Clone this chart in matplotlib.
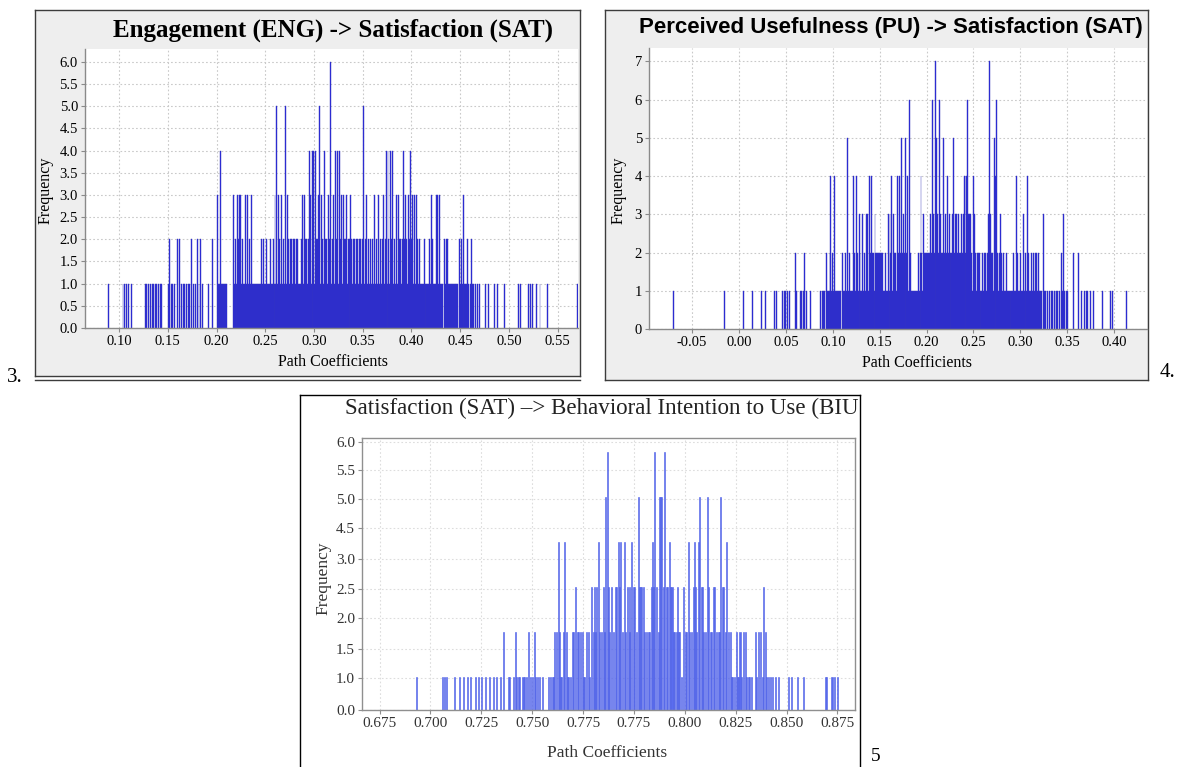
import matplotlib
matplotlib.use("Agg")
import matplotlib.pyplot as plt
from matplotlib.lines import Line2D

plt.rcParams["font.family"] = ["Liberation Serif", "DejaVu Serif"]

W, H = 1178, 767

# --- data: (path coefficient bin, frequency) ---
eng_sat = [
    (0.089, 1), (0.104, 1), (0.106, 1), (0.108, 1), (0.110, 1), (0.113, 1),
    (0.127, 1), (0.128, 1), (0.130, 1), (0.132, 1), (0.134, 1), (0.135, 1), (0.137, 1),
    (0.138, 1), (0.140, 1), (0.142, 1), (0.144, 1),
    (0.151, 1), (0.152, 2), (0.154, 1), (0.155, 1), (0.157, 1), (0.160, 2), (0.162, 2),
    (0.164, 1), (0.166, 1), (0.167, 1), (0.169, 1), (0.171, 1), (0.172, 1), (0.174, 2),
    (0.176, 1), (0.178, 1), (0.180, 2), (0.182, 1), (0.184, 2), (0.186, 1), (0.192, 1),
    (0.196, 2), (0.201, 3), (0.202, 1), (0.203, 1), (0.204, 4), (0.205, 1), (0.206, 1),
    (0.207, 1), (0.208, 1), (0.209, 1), (0.210, 1),
    (0.217, 3), (0.218, 1), (0.219, 2), (0.220, 1), (0.221, 1), (0.222, 3), (0.223, 2),
    (0.224, 3), (0.225, 3), (0.226, 1), (0.227, 2), (0.228, 1), (0.229, 1), (0.230, 3),
    (0.231, 1), (0.232, 3), (0.233, 1), (0.234, 2), (0.235, 1), (0.236, 3), (0.237, 1),
    (0.238, 1), (0.239, 1), (0.240, 1), (0.241, 1), (0.242, 1), (0.243, 1), (0.244, 1),
    (0.245, 1), (0.246, 2), (0.247, 1), (0.248, 2), (0.249, 1), (0.250, 1), (0.251, 2),
    (0.252, 1), (0.253, 1), (0.254, 1), (0.255, 2), (0.256, 1), (0.257, 1), (0.258, 2),
    (0.259, 1), (0.260, 3), (0.261, 1), (0.262, 5), (0.263, 1), (0.264, 3), (0.265, 2),
    (0.266, 1), (0.267, 3), (0.268, 1), (0.269, 2), (0.270, 1), (0.271, 5), (0.272, 1),
    (0.273, 3), (0.274, 2), (0.275, 1), (0.276, 2), (0.277, 2), (0.278, 1), (0.279, 2),
    (0.280, 2), (0.281, 1), (0.282, 2), (0.283, 2), (0.284, 1), (0.285, 1), (0.286, 1),
    (0.287, 2), (0.288, 3), (0.289, 1), (0.290, 3), (0.291, 2), (0.292, 2), (0.293, 1),
    (0.294, 2), (0.295, 4), (0.296, 3), (0.297, 1), (0.298, 4), (0.299, 2), (0.300, 4),
    (0.301, 1), (0.302, 4), (0.303, 2), (0.304, 2), (0.305, 3), (0.306, 5), (0.307, 1),
    (0.308, 3), (0.309, 2), (0.310, 1), (0.311, 4), (0.312, 2), (0.313, 2), (0.314, 1),
    (0.315, 3), (0.316, 2), (0.317, 6), (0.318, 1), (0.319, 2), (0.320, 3), (0.321, 1),
    (0.322, 4), (0.323, 2), (0.324, 4), (0.325, 1), (0.326, 4), (0.327, 2), (0.328, 3),
    (0.329, 1), (0.330, 3), (0.331, 2), (0.332, 2), (0.333, 3), (0.334, 1), (0.335, 2),
    (0.336, 2), (0.337, 1), (0.338, 3), (0.339, 2), (0.340, 1), (0.341, 2), (0.342, 2),
    (0.343, 1), (0.344, 2), (0.345, 2), (0.346, 1), (0.347, 2), (0.348, 2), (0.349, 1),
    (0.350, 2), (0.351, 5), (0.352, 1), (0.353, 2), (0.354, 3), (0.355, 1), (0.356, 2),
    (0.357, 1), (0.358, 2), (0.359, 1), (0.360, 2), (0.361, 1), (0.362, 3), (0.363, 1),
    (0.364, 2), (0.365, 1), (0.366, 3), (0.367, 1), (0.368, 2), (0.369, 1), (0.370, 2),
    (0.371, 3), (0.372, 1), (0.373, 2), (0.374, 4), (0.375, 1), (0.376, 4), (0.377, 2),
    (0.378, 1), (0.379, 4), (0.380, 2), (0.381, 4), (0.382, 1), (0.383, 2), (0.384, 1),
    (0.385, 3), (0.386, 1), (0.387, 3), (0.388, 2), (0.389, 2), (0.390, 1), (0.391, 2),
    (0.392, 4), (0.393, 2), (0.394, 3), (0.395, 2), (0.396, 1), (0.397, 3), (0.398, 2),
    (0.399, 4), (0.400, 2), (0.401, 3), (0.402, 1), (0.403, 3), (0.404, 1), (0.405, 3),
    (0.406, 2), (0.407, 1), (0.408, 2), (0.409, 1), (0.410, 1), (0.411, 1), (0.412, 1),
    (0.413, 2), (0.414, 1), (0.415, 1), (0.416, 1), (0.417, 1), (0.418, 1), (0.419, 2),
    (0.420, 1), (0.421, 3), (0.422, 2), (0.423, 1), (0.424, 1), (0.425, 1), (0.426, 3),
    (0.427, 3), (0.428, 1), (0.429, 3), (0.430, 1), (0.431, 1), (0.432, 1), (0.434, 2),
    (0.435, 1), (0.436, 2), (0.437, 2), (0.438, 1), (0.439, 1), (0.440, 1), (0.441, 1),
    (0.442, 1), (0.443, 1), (0.444, 1), (0.445, 1), (0.446, 1), (0.447, 1), (0.449, 2),
    (0.450, 1), (0.451, 2), (0.452, 1), (0.453, 3), (0.454, 1), (0.455, 1), (0.456, 1),
    (0.457, 1), (0.458, 2), (0.459, 1), (0.461, 1), (0.462, 2), (0.463, 1), (0.464, 1),
    (0.466, 1), (0.468, 1), (0.470, 1), (0.476, 1), (0.479, 1), (0.485, 1), (0.488, 1),
    (0.496, 1), (0.510, 1), (0.512, 1), (0.520, 1), (0.522, 1), (0.524, 1), (0.528, 1),
    (0.532, 1), (0.540, 1), (0.570, 1),
]

pu_sat = [
    (-0.070, 1), (-0.015, 1), (0.005, 1), (0.014, 1), (0.024, 1), (0.028, 1), (0.038, 1),
    (0.040, 1), (0.046, 1), (0.048, 1), (0.050, 1), (0.052, 1), (0.054, 1), (0.060, 2),
    (0.061, 1), (0.066, 1), (0.067, 1), (0.069, 1), (0.070, 2), (0.072, 1), (0.076, 1),
    (0.087, 1), (0.089, 1), (0.090, 1), (0.091, 1), (0.093, 2), (0.094, 1), (0.095, 1),
    (0.096, 1), (0.097, 2), (0.098, 4), (0.099, 1), (0.100, 2), (0.101, 1), (0.102, 4),
    (0.103, 1), (0.104, 1), (0.105, 1), (0.106, 1), (0.107, 1), (0.108, 1), (0.110, 2),
    (0.111, 1), (0.112, 1), (0.113, 1), (0.114, 2), (0.115, 1), (0.116, 5), (0.117, 1),
    (0.118, 2), (0.119, 1), (0.120, 1), (0.121, 1), (0.122, 4), (0.123, 2), (0.124, 1),
    (0.125, 4), (0.126, 2), (0.127, 1), (0.128, 3), (0.129, 2), (0.130, 1), (0.131, 1),
    (0.132, 3), (0.133, 1), (0.134, 2), (0.135, 1), (0.136, 3), (0.137, 3), (0.138, 1),
    (0.139, 4), (0.140, 2), (0.141, 4), (0.142, 2), (0.143, 2), (0.144, 1), (0.145, 3),
    (0.146, 2), (0.147, 2), (0.148, 2), (0.149, 2), (0.150, 2), (0.151, 2), (0.152, 2),
    (0.153, 2), (0.154, 1), (0.155, 1), (0.156, 2), (0.157, 1), (0.158, 1), (0.159, 3),
    (0.160, 1), (0.161, 3), (0.162, 2), (0.163, 4), (0.164, 1), (0.165, 3), (0.166, 2),
    (0.167, 2), (0.168, 1), (0.169, 4), (0.170, 2), (0.171, 4), (0.172, 2), (0.173, 5),
    (0.174, 2), (0.175, 3), (0.176, 2), (0.177, 5), (0.178, 2), (0.179, 2), (0.180, 4),
    (0.181, 1), (0.182, 6), (0.183, 2), (0.184, 1), (0.185, 1), (0.186, 1), (0.187, 1),
    (0.188, 1), (0.189, 1), (0.190, 1), (0.191, 2), (0.192, 1), (0.193, 2), (0.194, 4),
    (0.195, 2), (0.196, 1), (0.197, 3), (0.198, 2), (0.199, 2), (0.200, 2), (0.201, 2),
    (0.202, 2), (0.203, 2), (0.204, 3), (0.205, 2), (0.206, 6), (0.207, 3), (0.208, 2),
    (0.209, 7), (0.210, 3), (0.211, 5), (0.212, 3), (0.213, 2), (0.214, 6), (0.215, 3),
    (0.216, 2), (0.217, 2), (0.218, 5), (0.219, 2), (0.220, 3), (0.221, 2), (0.222, 4),
    (0.223, 2), (0.224, 3), (0.225, 2), (0.226, 2), (0.227, 2), (0.228, 3), (0.229, 5),
    (0.230, 2), (0.231, 3), (0.232, 3), (0.233, 2), (0.234, 3), (0.235, 2), (0.236, 2),
    (0.237, 3), (0.238, 2), (0.239, 3), (0.240, 4), (0.241, 2), (0.242, 4), (0.243, 4),
    (0.244, 6), (0.245, 3), (0.246, 3), (0.247, 3), (0.248, 2), (0.249, 1), (0.250, 4),
    (0.251, 3), (0.252, 2), (0.253, 1), (0.254, 2), (0.255, 2), (0.256, 2), (0.257, 1),
    (0.258, 1), (0.259, 1), (0.260, 2), (0.261, 1), (0.262, 2), (0.263, 2), (0.264, 1),
    (0.265, 2), (0.266, 3), (0.267, 7), (0.268, 3), (0.269, 2), (0.270, 2), (0.271, 1),
    (0.272, 5), (0.273, 4), (0.274, 2), (0.275, 6), (0.276, 2), (0.277, 1), (0.278, 2),
    (0.279, 3), (0.280, 2), (0.281, 1), (0.282, 2), (0.283, 1), (0.284, 1), (0.285, 2),
    (0.286, 1), (0.287, 1), (0.288, 1), (0.289, 1), (0.290, 1), (0.291, 1), (0.292, 1),
    (0.293, 2), (0.294, 1), (0.295, 1), (0.296, 4), (0.297, 2), (0.298, 1), (0.299, 1),
    (0.300, 2), (0.301, 1), (0.302, 1), (0.303, 3), (0.304, 1), (0.305, 2), (0.306, 1),
    (0.307, 1), (0.308, 4), (0.309, 2), (0.310, 1), (0.311, 1), (0.312, 2), (0.313, 1),
    (0.314, 2), (0.315, 1), (0.316, 2), (0.317, 2), (0.318, 1), (0.319, 2), (0.320, 1),
    (0.321, 1), (0.322, 1), (0.323, 1), (0.325, 3), (0.326, 1), (0.327, 1), (0.329, 1),
    (0.331, 1), (0.333, 1), (0.334, 1), (0.336, 1), (0.338, 1), (0.339, 1), (0.340, 1),
    (0.342, 1), (0.344, 2), (0.345, 1), (0.346, 3), (0.347, 1), (0.349, 1), (0.350, 1),
    (0.357, 2), (0.362, 2), (0.365, 1), (0.368, 1), (0.370, 1), (0.372, 1), (0.375, 1),
    (0.378, 1), (0.388, 1), (0.396, 1), (0.398, 1), (0.413, 1),
]

sat_biu = [
    (0.6931, 1), (0.7059, 1), (0.7069, 1), (0.7078, 1), (0.7120, 1), (0.7145, 1),
    (0.7164, 1), (0.7183, 1), (0.7197, 1), (0.7221, 1), (0.7235, 1), (0.7250, 1),
    (0.7273, 1), (0.7288, 1), (0.7311, 1), (0.7326, 1), (0.7346, 1), (0.7360, 2),
    (0.7382, 1), (0.7390, 1), (0.7406, 1), (0.7418, 2), (0.7423, 1), (0.7431, 1),
    (0.7439, 1), (0.7455, 1), (0.7464, 1), (0.7472, 1), (0.7483, 2), (0.7492, 1),
    (0.7500, 1), (0.7510, 2), (0.7516, 1), (0.7526, 1), (0.7537, 1), (0.7549, 1),
    (0.7582, 1), (0.7590, 1), (0.7598, 1), (0.7606, 1), (0.7611, 2), (0.7619, 2),
    (0.7628, 4), (0.7633, 2), (0.7638, 1), (0.7644, 1), (0.7652, 2), (0.7660, 4),
    (0.7667, 2), (0.7674, 1), (0.7680, 1), (0.7687, 1), (0.7697, 2), (0.7703, 2),
    (0.7715, 3), (0.7721, 2), (0.7729, 2), (0.7739, 2), (0.7746, 2), (0.7751, 1),
    (0.7759, 1), (0.7767, 2), (0.7775, 2), (0.7784, 1), (0.7792, 3), (0.7800, 2),
    (0.7805, 3), (0.7811, 2), (0.7816, 3), (0.7825, 4), (0.7833, 2), (0.7841, 2),
    (0.7849, 3), (0.7857, 2), (0.7862, 5), (0.7870, 6), (0.7877, 3), (0.7882, 2),
    (0.7890, 3), (0.7898, 2), (0.7907, 3), (0.7915, 3), (0.7923, 4), (0.7931, 3),
    (0.7936, 4), (0.7943, 2), (0.7953, 4), (0.7959, 2), (0.7966, 3), (0.7976, 2),
    (0.7980, 3), (0.7989, 4), (0.7996, 3), (0.8005, 3), (0.8013, 2), (0.8021, 5),
    (0.8026, 3), (0.8032, 3), (0.8039, 3), (0.8046, 3), (0.8054, 2), (0.8062, 2),
    (0.8070, 2), (0.8078, 2), (0.8085, 3), (0.8092, 4), (0.8098, 3), (0.8103, 6),
    (0.8111, 3), (0.8119, 2), (0.8124, 5), (0.8131, 5), (0.8137, 5), (0.8144, 3),
    (0.8152, 6), (0.8160, 3), (0.8167, 3), (0.8174, 4), (0.8180, 3), (0.8187, 3),
    (0.8193, 2), (0.8201, 2), (0.8210, 2), (0.8215, 3), (0.8221, 2), (0.8226, 2),
    (0.8234, 1), (0.8242, 3), (0.8251, 2), (0.8259, 2), (0.8267, 4), (0.8275, 2),
    (0.8283, 2), (0.8292, 3), (0.8297, 4), (0.8303, 3), (0.8308, 2), (0.8316, 4),
    (0.8324, 5), (0.8331, 3), (0.8338, 3), (0.8344, 2), (0.8351, 2), (0.8361, 5),
    (0.8367, 3), (0.8374, 2), (0.8382, 2), (0.8390, 3), (0.8398, 3), (0.8407, 2),
    (0.8415, 2), (0.8420, 2), (0.8426, 5), (0.8433, 3), (0.8439, 3), (0.8448, 2),
    (0.8456, 4), (0.8464, 2), (0.8472, 2), (0.8479, 1), (0.8485, 1), (0.8492, 1),
    (0.8502, 2), (0.8508, 1), (0.8515, 1), (0.8521, 2), (0.8530, 1), (0.8538, 2),
    (0.8546, 2), (0.8554, 1), (0.8562, 1), (0.8570, 1), (0.8579, 1), (0.8595, 2),
    (0.8603, 1), (0.8612, 2), (0.8620, 2), (0.8630, 1), (0.8636, 3), (0.8644, 2),
    (0.8652, 1), (0.8661, 1), (0.8672, 1), (0.8682, 1), (0.8694, 1), (0.8710, 1),
    (0.8758, 1), (0.8773, 1), (0.8805, 1), (0.8834, 1), (0.8939, 1), (0.8948, 1),
    (0.8973, 1), (0.8987, 1), (0.9002, 1),
]

eng_xticks = [0.10, 0.15, 0.20, 0.25, 0.30, 0.35, 0.40, 0.45, 0.50, 0.55]
eng_yticks = [0.0, 0.5, 1.0, 1.5, 2.0, 2.5, 3.0, 3.5, 4.0, 4.5, 5.0, 5.5, 6.0]
pu_xticks = [-0.05, 0.00, 0.05, 0.10, 0.15, 0.20, 0.25, 0.30, 0.35, 0.40]
pu_yticks = [0, 1, 2, 3, 4, 5, 6, 7]
sat_xtick_labels = ["0.675", "0.700", "0.725", "0.750", "0.775",
                    "0.775", "0.800", "0.825", "0.850", "0.875"]
sat_ytick_labels = ["0.0", "1.0", "1.5", "2.0", "2.5", "3.0", "4.5", "5.0", "5.5", "6.0"]


def rect(x0, y0, x1, y1):
    return [x0 / W, 1 - y1 / H, (x1 - x0) / W, (y1 - y0) / H]


def fx(x):
    return x / W


def fy(y):
    return 1 - y / H


def frame(x0, y0, x1, y1, face, edge="#3c3c3c"):
    bg = fig.add_axes(rect(x0, y0, x1, y1), zorder=0)
    bg.set_facecolor(face)
    bg.set_xticks([])
    bg.set_yticks([])
    for sp in bg.spines.values():
        sp.set_color(edge)
        sp.set_linewidth(1.0)
    return bg


def style_plot(ax, spine_color, labelsize, full_box=False, tick_color="black"):
    ax.spines["top"].set_visible(full_box)
    ax.spines["right"].set_visible(full_box)
    for sp in ax.spines.values():
        sp.set_color(spine_color)
        sp.set_linewidth(1.0)
    ax.grid(True, color="#c9c9c9", linestyle=(0, (1.5, 2.0)), linewidth=0.8)
    ax.set_axisbelow(True)
    ax.tick_params(direction="out", length=3, width=0.8, color=spine_color,
                   labelsize=labelsize, labelcolor=tick_color, pad=2)


fig = plt.figure(figsize=(W / 100, H / 100), dpi=100)
fig.patch.set_facecolor("white")

# ---------------- panel 3: ENG -> SAT ----------------
frame(35, 10, 580, 376, "#eeeeee")
fig.add_artist(Line2D([fx(35), fx(580)], [fy(380), fy(380)], color="#3c3c3c", lw=1.0))
ax1 = fig.add_axes(rect(85, 49, 578, 328), zorder=1)
x1, n1 = zip(*eng_sat)
ax1.bar(x1, n1, width=0.001, color="#2424e4", edgecolor="#3838b8", linewidth=0.3, zorder=2)
ax1.set_xlim(0.065, 0.571)
ax1.set_ylim(0, 6.29)
ax1.set_xticks(eng_xticks)
ax1.set_xticklabels([f"{v:.2f}" for v in eng_xticks])
ax1.set_yticks(eng_yticks)
ax1.set_yticklabels([f"{v:.1f}" for v in eng_yticks])
style_plot(ax1, "#8a8a8a", 10.5)
fig.text(fx(333), fy(30), "Engagement (ENG) -> Satisfaction (SAT)", ha="center", va="center",
         fontsize=18, fontweight="bold")
fig.text(fx(333), fy(362), "Path Coefficients", ha="center", va="center", fontsize=11.5)
fig.text(fx(46), fy(190), "Frequency", ha="center", va="center", rotation=90, fontsize=11.5)
fig.text(fx(15), fy(378), "3.", ha="center", va="center", fontsize=15)

# ---------------- panel 4: PU -> SAT ----------------
frame(605, 10, 1148, 380, "#eeeeee")
ax2 = fig.add_axes(rect(649, 48, 1147, 329), zorder=1)
x2, n2 = zip(*pu_sat)
ax2.bar(x2, n2, width=0.001, color="#2424e4", edgecolor="#3838b8", linewidth=0.3, zorder=2)
ax2.set_xlim(-0.096, 0.435)
ax2.set_ylim(0, 7.35)
ax2.set_xticks(pu_xticks)
ax2.set_xticklabels([f"{v:.2f}" for v in pu_xticks])
ax2.set_yticks(pu_yticks)
style_plot(ax2, "#8a8a8a", 10.5)
fig.text(fx(891), fy(28), "Perceived Usefulness (PU) -> Satisfaction (SAT)", ha="center",
         va="center", fontsize=16, fontweight="bold", family=["Liberation Sans", "DejaVu Sans"])
fig.text(fx(917), fy(363), "Path Coefficients", ha="center", va="center", fontsize=11.5)
fig.text(fx(619), fy(190), "Frequency", ha="center", va="center", rotation=90, fontsize=11.5)
fig.text(fx(1168), fy(372), "4.", ha="center", va="center", fontsize=15)

# ---------------- panel 5: SAT -> BIU ----------------
frame(300, 395, 860, 780, "white", edge="black")
ax3 = fig.add_axes(rect(362, 438, 855, 710), zorder=1)
x3, n3 = zip(*sat_biu)
ax3.bar(x3, n3, width=0.0005, color="#5a6cf0", edgecolor="#4d5fe6", linewidth=0.4, zorder=2)
ax3.set_xlim(0.6664, 0.9086)
ax3.set_ylim(0.28, 6.3)
ax3.set_xticks([0.675 + 0.025 * k for k in range(len(sat_xtick_labels))])
ax3.set_xticklabels(sat_xtick_labels)
ax3.set_yticks([0.28, 0.99, 1.64, 2.31, 2.96, 3.63, 4.30, 4.94, 5.59, 6.22])
ax3.set_yticklabels(sat_ytick_labels)
style_plot(ax3, "#8f8f8f", 11, full_box=True, tick_color="#333333")
ax3.grid(True, color="#dddddd", linestyle=(0, (1.5, 2.0)), linewidth=0.8)
fig.text(fx(345), fy(408), "Satisfaction (SAT) \u2013> Behavioral Intention to Use (BIU",
         ha="left", va="center", fontsize=16.6, color="#222222")
fig.text(fx(607), fy(753), "Path Coefficients", ha="center", va="center", fontsize=12.5,
         color="#333333")
fig.text(fx(323), fy(578), "Frequency", ha="center", va="center", rotation=90, fontsize=12.5,
         color="#333333")
fig.text(fx(876), fy(748), "5", ha="center", va="top", fontsize=14)

fig.savefig("out.png", dpi=100)
